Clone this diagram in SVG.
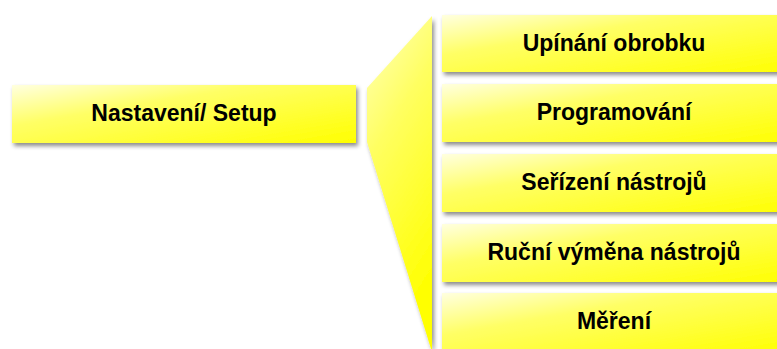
<svg xmlns="http://www.w3.org/2000/svg" width="777" height="349" viewBox="0 0 777 349">
<defs>
<linearGradient id="g" x1="0" y1="0" x2="1" y2="1">
<stop offset="0" stop-color="#FFFFE0"/>
<stop offset="0.35" stop-color="#FFFF66"/>
<stop offset="1" stop-color="#FFFF00"/>
</linearGradient>
<linearGradient id="gt" x1="0" y1="0" x2="0.3" y2="1">
<stop offset="0" stop-color="#FFFFC0"/>
<stop offset="0.4" stop-color="#FFFF60"/>
<stop offset="1" stop-color="#FFFF00"/>
</linearGradient>
<filter id="sh" x="-10%" y="-20%" width="130%" height="160%">
<feDropShadow dx="2" dy="3" stdDeviation="2" flood-color="#000" flood-opacity="0.45"/>
</filter>
</defs>
<style>
.box{fill:url(#g);filter:url(#sh)}
.t{font-family:"Liberation Sans",Arial,sans-serif;font-weight:bold;font-size:23px;fill:#000;text-anchor:middle}
</style>
<g id="connectors">
<polygon points="432,16 367,88 367,142 432,352" fill="url(#gt)" filter="url(#sh)"/>
</g>
<g id="setup">
<rect class="box" x="12" y="85" width="344" height="58"/>
<text class="t" x="184" y="121">Nastavení/ Setup</text>
</g>
<g id="n1">
<rect class="box" x="442" y="15" width="350" height="57"/>
<text class="t" x="614" y="51">Upínání obrobku</text>
</g>
<g id="n2">
<rect class="box" x="442" y="84" width="350" height="58"/>
<text class="t" x="614" y="120">Programování</text>
</g>
<g id="n3">
<rect class="box" x="442" y="154" width="350" height="58"/>
<text class="t" x="614" y="190">Seřízení nástrojů</text>
</g>
<g id="n4">
<rect class="box" x="442" y="224" width="350" height="58"/>
<text class="t" x="614" y="260">Ruční výměna nástrojů</text>
</g>
<g id="n5">
<rect class="box" x="442" y="293" width="350" height="60"/>
<text class="t" x="614" y="329">Měření</text>
</g>
</svg>
